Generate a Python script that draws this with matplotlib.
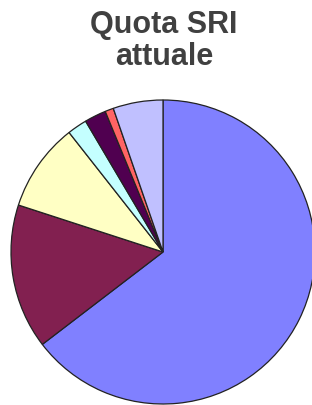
import matplotlib
matplotlib.use("Agg")
import matplotlib.pyplot as plt

# slice shares (percent), clockwise from 12 o'clock
labels = ["A", "B", "C", "D", "E", "F", "G"]
shares = [64.6, 15.4, 9.4, 2.1, 2.3, 0.9, 5.3]
colors = ["#8080FF", "#822050", "#FFFFC4", "#C4FFFF", "#500050", "#FF6464", "#C0C0FF"]

W, H = 312, 405
fig = plt.figure(figsize=(W / 100, H / 100), dpi=100)

# pie centre (163, 252) px, radius 152 px
cx, cy, r = 163, 252, 152
ax = fig.add_axes([(cx - r) / W, (H - cy - r) / H, 2 * r / W, 2 * r / H])
wedges, _ = ax.pie(shares, colors=colors, startangle=90, counterclock=False,
                   radius=1.0,
                   wedgeprops=dict(edgecolor="#222222", linewidth=0.9))
for w in wedges:
    w.set_clip_on(False)
ax.set_xlim(-1, 1)
ax.set_ylim(-1, 1)
ax.set_aspect("auto")
ax.axis("off")

fig.text(164 / W, 1 - 41 / H, "Quota SRI\nattuale", ha="center", va="center",
         fontsize=22, fontweight="bold", color="#404040",
         family="Liberation Sans", linespacing=1.12)

fig.savefig("out.png", dpi=100)
